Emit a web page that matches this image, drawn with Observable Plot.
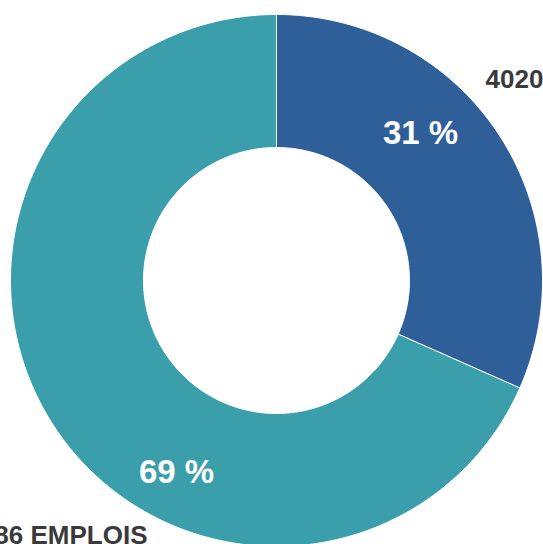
<!DOCTYPE html>
<html><head><meta charset="utf-8">
<script src="https://cdn.jsdelivr.net/npm/d3@7"></script>
<script src="https://cdn.jsdelivr.net/npm/@observablehq/plot@0.6"></script>
<style>body{margin:0;background:#fff;overflow:hidden}</style>
</head><body><div id="chart"></div>
<script>
const categories = ["Catégorie A", "Catégorie B"];
const values = [4020, 8686];
const percentLabels = ["31 %", "69 %"];
const countLabels = ["4020 EMPLOIS", "8686 EMPLOIS"];
const colors = ["#2f5f98", "#3a9fab"];

const R = 266, r0 = 133;
const total = d3.sum(values);
const pie = d3.pie().sort(null)(values);

const poly = [];
pie.forEach((s, i) => {
  const n = 200;
  for (let k = 0; k <= n; k++) {
    const a = s.startAngle + (s.endAngle - s.startAngle) * k / n;
    poly.push({key: categories[i], x: R * Math.sin(a), y: R * Math.cos(a)});
  }
  for (let k = n; k >= 0; k--) {
    const a = s.startAngle + (s.endAngle - s.startAngle) * k / n;
    poly.push({key: categories[i], x: r0 * Math.sin(a), y: r0 * Math.cos(a)});
  }
});

const pctPos = pie.map((s, i) => {
  const a = (s.startAngle + s.endAngle) / 2;
  return {label: percentLabels[i]};
});
// label positions in data space (chart units, center = 0,0)
const pctData = [
  {label: percentLabels[0], x: 144, y: 137},
  {label: percentLabels[1], x: -100, y: -202}
];
const cntData = [
  {label: countLabels[0], x: 209, y: 193, anchor: "start"},
  {label: countLabels[1], x: -129, y: -263, anchor: "end"}
];

const chart = Plot.plot({
  width: 543, height: 544,
  margin: 0,
  x: {domain: [-276, 267], axis: null},
  y: {domain: [-264, 280], axis: null},
  color: {domain: categories, range: colors},
  marks: [
    Plot.line(poly, {x: "x", y: "y", z: "key", fill: "key", stroke: "white", strokeWidth: 1, curve: "linear-closed"}),
    Plot.text(pctData, {x: "x", y: "y", text: "label", fill: "white", fontSize: 33, fontWeight: "bold", lineAnchor: "bottom"}),
    Plot.text(cntData.filter(d => d.anchor === "start"), {x: "x", y: "y", text: "label", fill: "#3a3a3a", fontSize: 26, fontWeight: "bold", textAnchor: "start", lineAnchor: "bottom"}),
    Plot.text(cntData.filter(d => d.anchor === "end"), {x: "x", y: "y", text: "label", fill: "#3a3a3a", fontSize: 26, fontWeight: "bold", textAnchor: "end", lineAnchor: "bottom"})
  ],
  style: {fontFamily: "'Liberation Sans', Arial, sans-serif", background: "white", overflow: "hidden"}
});
document.getElementById("chart").appendChild(chart);
</script></body></html>
